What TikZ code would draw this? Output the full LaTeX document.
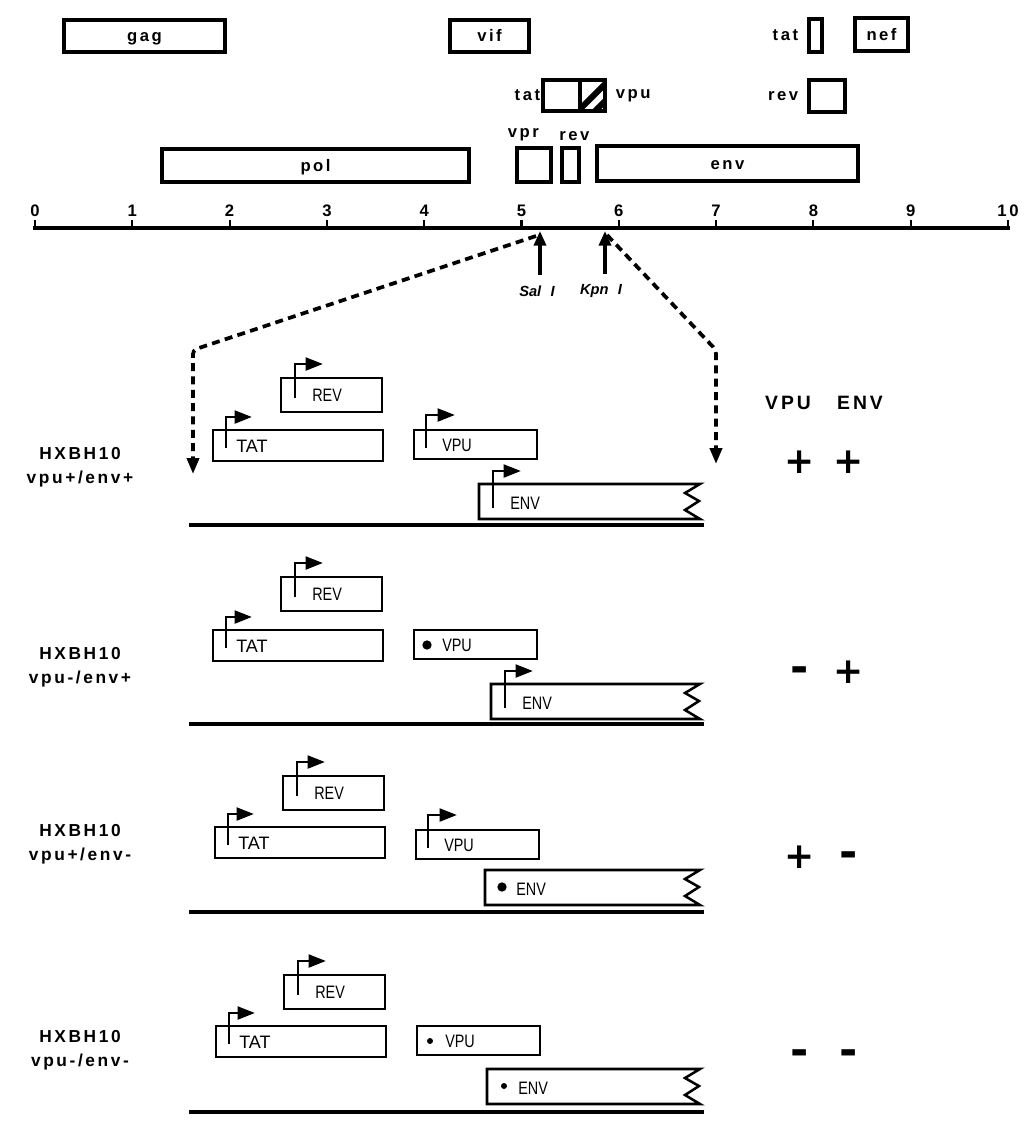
\documentclass[tikz,border=0pt]{standalone}
\usepackage{fontspec}
\usepackage{graphicx}
\setmainfont{Liberation Sans}
\newfontfamily\spacedfont[LetterSpace=15]{Liberation Sans}
\newfontfamily\signfont{DejaVu Sans}
\usetikzlibrary{arrows.meta,positioning,calc}

\newcommand{\genfont}{\spacedfont\bfseries\fontsize{12.5}{14}\selectfont}
\newcommand{\orffont}{\fontsize{13.5}{15}\selectfont}
\newcommand{\strainfont}{\spacedfont\bfseries\fontsize{13}{18}\selectfont}
\newcommand{\narrow}[1]{\scalebox{0.8}[1]{#1}}

\begin{document}
\begin{tikzpicture}[x=0.75pt, y=-0.75pt,
    gene/.style={draw, line width=3pt, inner sep=0pt, outer sep=0pt, anchor=north west, text height=8.5pt, text depth=0pt, font=\genfont},
    sz/.style 2 args={minimum width={(#1)*0.75pt}, minimum height={(#2)*0.75pt}},
    gname/.style={font=\genfont, inner sep=0pt},
    orf/.style={draw, line width=1.9pt, inner sep=0pt, outer sep=0pt, anchor=north west},
    orfline/.style={line width=1.9pt},
    orfname/.style={font=\orffont, inner sep=0pt, anchor=west},
    promoter/.style={line width=2.2pt, -{Triangle[length=13pt, width=9.5pt]}},
    mutdot/.style={fill, circle, inner sep=0pt, minimum size=#1},
    dna/.style={line width=3.4pt},
    axisline/.style={line width=3.6pt},
    tickmark/.style={line width=1.6pt},
    ticklbl/.style={font=\spacedfont\bfseries\fontsize{12.5}{14}\selectfont, inner sep=0pt},
    sitelbl/.style={font=\bfseries\itshape\fontsize{11}{13}\selectfont, inner sep=0pt},
    sitearrow/.style={line width=2.6pt, -{Triangle[length=11pt, width=9pt]}},
    zoomline/.style={line width=2.8pt, dash pattern=on 6pt off 4pt, rounded corners=3pt, -{Triangle[length=12pt, width=9pt]}},
    strain/.style={font=\strainfont, align=center, inner sep=0pt},
    colhead/.style={font=\spacedfont\bfseries\fontsize{14.5}{16}\selectfont, inner sep=0pt},
    sign/.style={font=\signfont\bfseries\fontsize{27}{27}\selectfont, inner sep=0pt},
    sign+/.style={},
    sign-/.style={font=\signfont\bfseries\fontsize{33}{33}\selectfont, yshift=-2pt}
  ]
  \useasboundingbox (0,0) rectangle (1029,1121);

  % genome map
  \node[gene, sz={161}{32}] (gag) at (64,20) {gag};
  \node[gene, sz={79}{32}] (vif) at (450,20) {vif};
  \node[gene, sz={13}{33}] (tatB) at (809,19) {};
  \node[gene, sz={53}{33}] (nef) at (855,18) {nef};
  \node[gene, sz={37}{31}] (tatA) at (543,80) {};
  \node[gene, sz={25}{31}] (vpu) at (580,80) {};
  \node[gene, sz={36}{32}] (revB) at (809,80) {};
  \node[gene, sz={34}{34}] (vpr) at (517,148) {};
  \node[gene, sz={17}{34}] (revA) at (562,148) {};
  \node[gene, sz={307}{33}] (pol) at (162,149) {pol};
  \node[gene, sz={261}{35}] (env) at (597,146) {env};

  \begin{scope}
    \clip (vpu.south west) rectangle (vpu.north east);
    \foreach \k in {-2,15}
      \draw[line width=4.5pt] ([shift={(\k,0)}]vpu.south west) -- ++(40,-40);
  \end{scope}

  \node[gname, left=8pt of tatB] (tatBl) {tat};
  \node[gname, left=2pt of tatA] (tatAl) {tat};
  \node[gname, right=8pt of vpu] (vpul) {vpu};
  \node[gname, left=8pt of revB] (revBl) {rev};
  \node[gname, above=5pt of vpr, xshift=-8pt] (vprl) {vpr};
  \node[gname, above=5pt of revA, xshift=3pt] (revAl) {rev};

  % scale in kb
  \coordinate (a0) at (35,228);
  \coordinate (a10) at (1008,228);
  \draw[axisline] ([shift={(-2,0)}]a0) -- ([shift={(2,0)}]a10);
  \foreach \i in {0,...,10} {
    \draw[tickmark] ($(a0)!\i/10!(a10)$) coordinate (t\i) -- ++(0,-8);
    \node[ticklbl] (n\i) at ($(t\i)+(0,-17)$) {\i};
  }

  % restriction sites
  \coordinate (salsite) at (540,231);
  \coordinate (kpnsite) at (605,231);
  \node[sitelbl] (sal) at (537,291) {Sal\hspace{7pt}I};
  \node[sitelbl] (kpn) at (601,291) {Kpn\hspace{7pt}I};
  \draw[sitearrow, shorten <=8pt] (sal.north -| salsite) -- (salsite);
  \draw[sitearrow, shorten <=8pt] (kpn.north -| kpnsite) -- (kpnsite);

  \coordinate (lbend) at (193,350);
  \coordinate (lend) at (193,474);
  \coordinate (rbend) at (716,350);
  \coordinate (rend) at (716,464);
  \draw[zoomline] ([shift={(-4,5)}]salsite) -- (lbend) -- (lend);
  \draw[zoomline] ([shift={(2,4)}]kpnsite) -- (rbend) -- (rend);

  \node[colhead] (vpuh) at (788,403) {VPU};
  \node[colhead] (envh) at (860,403) {ENV};

  % constructs
  \foreach \row/\dx/\yr/\yt/\yv/\ye/\xe/\yb/\yl/\ys/\vs/\es/\ds in {
      1/0/378/430/430/484/479/525/467/462/+/+/7pt,
      2/0/577/630/630/684/491/724/667/672/-/+/7pt,
      3/2/776/827/830/870/485/912/844/857/+/-/7pt,
      4/3/975/1026/1026/1069/487/1112/1050/1055/-/-/4.5pt} {
    \node[orf, sz={101}{34}] (rev\row) at (281+\dx,\yr) {};
    \draw[promoter] ([shift={(14,20)}]rev\row.north west) |- ([shift={(42,-14)}]rev\row.north west);
    \node[orfname] (revt\row) at ([shift={(31,17)}]rev\row.north west) {\narrow{REV}};

    \node[orf, sz={170}{31}] (tat\row) at (213+\dx,\yt) {};
    \draw[promoter] ([shift={(13,18)}]tat\row.north west) |- ([shift={(39,-13)}]tat\row.north west);
    \node[orfname] (tatt\row) at ([shift={(23,16)}]tat\row.north west) {TAT};

    \node[orf, sz={123}{29}] (vpu\row) at (414+\dx,\yv) {};
    \if\vs+
      \draw[promoter] ([shift={(12,18)}]vpu\row.north west) |- ([shift={(41,-15)}]vpu\row.north west);
    \else
      \node[mutdot=\ds] (vd\row) at ([shift={(13,15)}]vpu\row.north west) {};
    \fi
    \node[orfname] (vput\row) at ([shift={(28,15)}]vpu\row.north west) {\narrow{VPU}};

    \node[inner sep=0pt, outer sep=0pt, anchor=north west, sz={700-\xe}{35}] (env\row) at (\xe,\ye) {};
    \draw[orfline] (env\row.north east) -- (env\row.north west) -- (env\row.south west) -- (env\row.south east)
      -- ([shift={(-15,-9)}]env\row.south east) -- ([shift={(-1,-18)}]env\row.south east)
      -- ([shift={(-15,-26)}]env\row.south east) -- cycle;
    \if\es+
      \draw[promoter] ([shift={(14,24)}]env\row.north west) |- ([shift={(42,-13)}]env\row.north west);
    \else
      \node[mutdot=\ds] (ed\row) at ([shift={(17,17)}]env\row.north west) {};
    \fi
    \node[orfname] (envt\row) at ([shift={(31,19)}]env\row.north west) {\narrow{ENV}};

    \coordinate (bl\row) at (189,\yb);
    \coordinate (br\row) at (704,\yb);
    \draw[dna] (bl\row) -- (br\row);

    \node[strain] (st\row) at (80,\yl) {HXBH10\\vpu\vs/env\es};
    \node[sign, sign\vs] (sv\row) at (800,\ys) {\vs};
    \node[sign, sign\es] (se\row) at (849,\ys) {\es};
  }
\end{tikzpicture}
\end{document}
